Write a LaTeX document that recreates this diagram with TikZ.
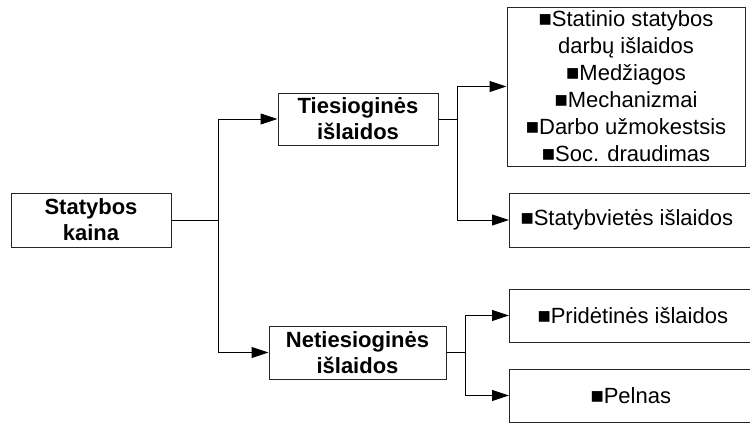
\documentclass[tikz,border=0pt]{standalone}
\usepackage{fontspec}
\setmainfont{Liberation Sans}
\usetikzlibrary{arrows.meta}
\tikzset{
  box/.style={draw=black!85, line width=0.75pt, inner sep=0pt, align=center,
    font=\fontsize{16.5pt}{19.5pt}\selectfont},
  boldbox/.style={box, font=\fontsize{16.5pt}{19.5pt}\selectfont\bfseries},
  link/.style={line width=0.75pt, black},
  arr/.style={link, -{Triangle[length=12.75pt,width=8.25pt]}}
}
\begin{document}
\begin{tikzpicture}[x=0.75pt,y=-0.75pt]
\useasboundingbox (0,0) rectangle (750,422);
\clip (0,0) rectangle (750,422);
\node[boldbox, minimum width=120pt, minimum height=40.5pt] (kaina) at (91,220) {Statybos\\kaina};
\node[boldbox, minimum width=120pt, minimum height=39pt] (ties) at (358,119) {Tiesioginės\\išlaidos};
\node[boldbox, minimum width=132.75pt, minimum height=39.75pt] (neties) at (357.5,352.5) {Netiesioginės\\išlaidos};
\node[box, minimum width=178.5pt, minimum height=119.25pt, font=\fontsize{16.5pt}{20.25pt}\selectfont] (top) at (626,86.5)
  {■Statinio statybos\\darbų išlaidos\\■Medžiagos\\■Mechanizmai\\■Darbo užmokestsis\\■Soc. draudimas};
\node[box, anchor=west, minimum height=40.5pt] (svt) at (509,220) {\makebox[195pt][l]{\hspace*{8.25pt}■Statybvietės išlaidos}};
\node[box, anchor=west, minimum height=39.75pt] (prid) at (509,315.5) {\makebox[195pt][l]{\hspace*{21pt}■Pridėtinės išlaidos}};
\node[box, anchor=west, minimum height=39.75pt] (peln) at (509,395.5) {\makebox[195pt][l]{\hspace*{60.75pt}■Pelnas}};
\coordinate (j1) at (218,220);
\coordinate (j2) at (457,119);
\coordinate (j3) at (465,352.5);
\draw[link] (kaina.east) -- (j1);
\draw[arr] (j1) |- (ties.west);
\draw[arr] (j1) |- (neties.west);
\draw[link] (ties.east) -- (j2);
\draw[arr] (j2) |- (top.west);
\draw[arr] (j2) |- (svt.west);
\draw[link] (neties.east) -- (j3);
\draw[arr] (j3) |- (prid.west);
\draw[arr] (j3) |- (peln.west);
\end{tikzpicture}
\end{document}
